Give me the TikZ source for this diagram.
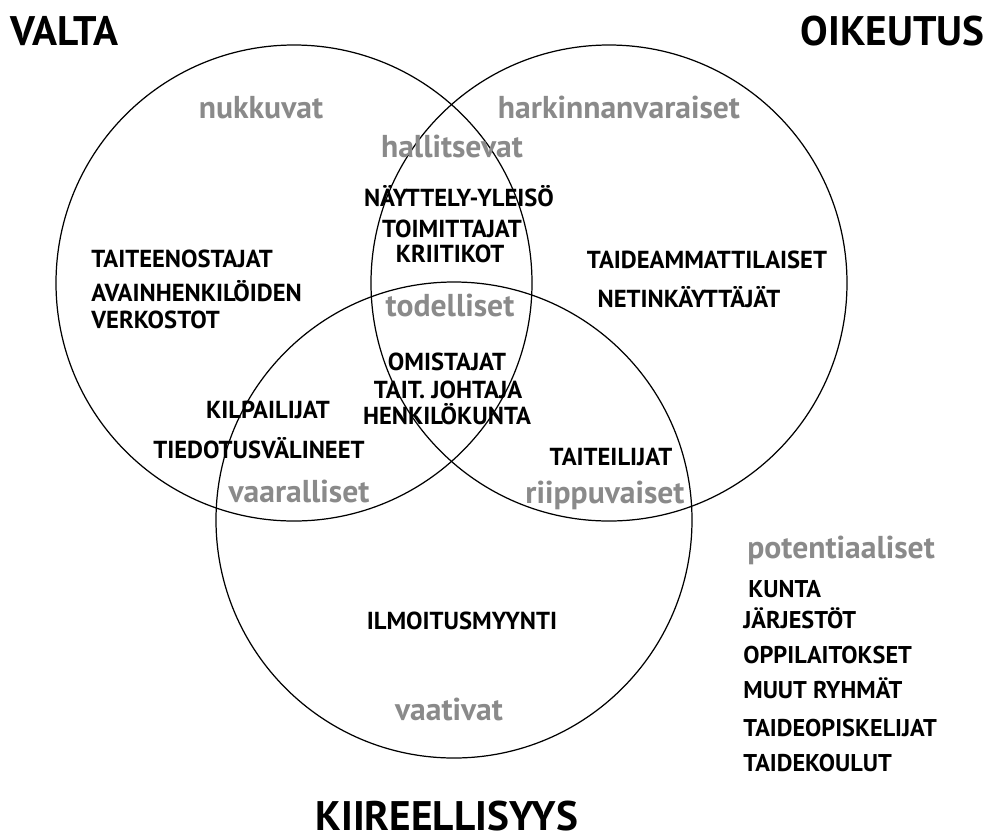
\documentclass[tikz,border=0pt]{standalone}
\usepackage{fontspec}
\setmainfont{PT Sans}
\usepackage{xcolor}
\usepackage{tikz}
\definecolor{labelgray}{RGB}{138,138,138}

\begin{document}
\begin{tikzpicture}[scale=0.2,
    every node/.style={inner sep=0pt},
    axis/.style={font=\fontsize{23.5}{23.5}\selectfont\bfseries},
    group/.style={font=\fontsize{18}{18}\selectfont\bfseries, text=labelgray},
    actor/.style={font=\fontsize{14}{14}\selectfont\bfseries},
    extra/.style={font=\fontsize{13.8}{13.8}\selectfont\bfseries, anchor=base west}]
                \useasboundingbox (0,0) rectangle (99.5,-83.9);
                \draw [black, line width=0.7pt] (29.4,-28.3) circle (23.8);
                \draw [black, line width=0.7pt] (60.9,-28.3) circle (23.8);
                \draw [black, line width=0.7pt] (45.4,-52.0) circle (23.8);
                \node [axis, anchor=base west] (valta) at (1.0,-4.5) {VALTA};
                \node [axis, anchor=base east] (oikeutus) at (98.5,-4.5) {OIKEUTUS};
                \node [axis, anchor=base] (kiireellisyys) at (44.7,-83.0) {KIIREELLISYYS};
                \node [group, anchor=base] (nukkuvat) at (26.1,-11.8) {nukkuvat};
                \node [group, anchor=base] (harkinnanvaraiset) at (61.9,-11.8) {harkinnanvaraiset};
                \node [group, anchor=base] (hallitsevat) at (45.2,-15.7) {hallitsevat};
                \node [group, anchor=base] (todelliset) at (45.0,-31.6) {todelliset};
                \node [group, anchor=base] (vaaralliset) at (29.9,-50.2) {vaaralliset};
                \node [group, anchor=base] (riippuvaiset) at (60.5,-50.3) {riippuvaiset};
                \node [group, anchor=base] (vaativat) at (44.9,-72.0) {vaativat};
                \node [group, anchor=base west] (potentiaaliset) at (74.7,-55.8) {potentiaaliset};
                \node [actor, anchor=base west] (taiteenostajat) at (9.1,-26.7) {TAITEENOSTAJAT};
                \node [actor, anchor=base west] (avainhenkilot) at (9.1,-30.1) {AVAINHENKILÖIDEN};
                \node [actor, anchor=base west] (verkostot) at (9.1,-32.8) {VERKOSTOT};
                \node [actor, anchor=base] (yleiso) at (45.9,-20.6) {NÄYTTELY-YLEISÖ};
                \node [actor, anchor=base] (toimittajat) at (45.2,-23.7) {TOIMITTAJAT};
                \node [actor, anchor=base] (kriitikot) at (45.0,-26.2) {KRIITIKOT};
                \node [actor, anchor=base] (ammattilaiset) at (70.7,-26.8) {TAIDEAMMATTILAISET};
                \node [actor, anchor=base] (netinkayttajat) at (68.9,-30.7) {NETINKÄYTTÄJÄT};
                \node [actor, anchor=base] (omistajat) at (44.7,-37.0) {OMISTAJAT};
                \node [actor, anchor=base] (johtaja) at (44.8,-39.8) {TAIT. JOHTAJA};
                \node [actor, anchor=base] (henkilokunta) at (44.7,-42.4) {HENKILÖKUNTA};
                \node [actor, anchor=base] (kilpailijat) at (26.8,-41.8) {KILPAILIJAT};
                \node [actor, anchor=base] (tiedotus) at (25.9,-45.8) {TIEDOTUSVÄLINEET};
                \node [actor, anchor=base] (taiteilijat) at (61.1,-46.5) {TAITEILIJAT};
                \node [actor, anchor=base] (ilmoitus) at (46.2,-62.9) {ILMOITUSMYYNTI};
                \node [extra] (kunta) at (74.8,-59.7) {KUNTA};
                \node [extra] (jarjestot) at (74.3,-62.8) {JÄRJESTÖT};
                \node [extra] (oppilaitokset) at (74.3,-66.3) {OPPILAITOKSET};
                \node [extra] (ryhmat) at (74.3,-69.8) {MUUT RYHMÄT};
                \node [extra] (opiskelijat) at (74.3,-73.6) {TAIDEOPISKELIJAT};
                \node [extra] (koulut) at (74.3,-77.1) {TAIDEKOULUT};
\end{tikzpicture}
\end{document}
